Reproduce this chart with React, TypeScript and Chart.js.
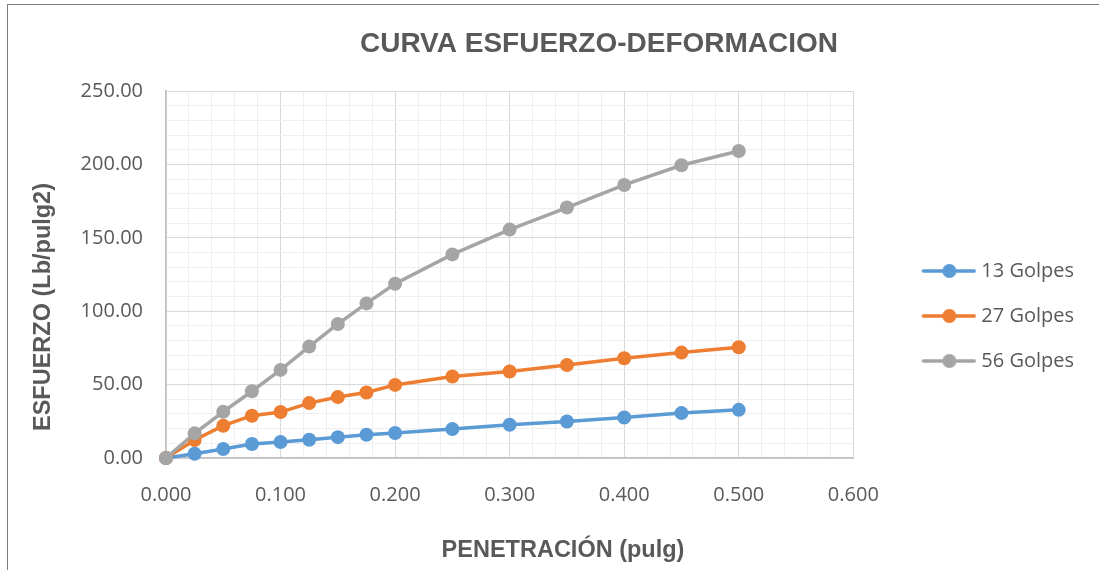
import React, { useEffect, useRef } from "react";
import { Chart, registerables } from "chart.js";

Chart.register(...registerables);

// ---- data ----
const penetracion = [0, 0.025, 0.05, 0.075, 0.1, 0.125, 0.15, 0.175, 0.2, 0.25, 0.3, 0.35, 0.4, 0.45, 0.5];
const golpes13 = [0, 2.9, 6.1, 9.5, 10.9, 12.4, 14.2, 15.8, 17.0, 19.7, 22.6, 24.9, 27.6, 30.6, 32.8];
const golpes27 = [0, 12.3, 22.0, 28.8, 31.3, 37.4, 41.5, 44.6, 49.8, 55.5, 58.9, 63.4, 68.0, 71.8, 75.4];
const golpes56 = [0, 16.8, 31.5, 45.5, 60.0, 75.9, 91.3, 105.3, 118.7, 138.7, 155.6, 170.6, 186.0, 199.4, 209.1];

const seriesLabels = ["13 Golpes", "27 Golpes", "56 Golpes"];
const seriesColors = ["#5B9BD5", "#ED7D31", "#A5A5A5"];

const xTickLabels = ["0.000", "0.100", "0.200", "0.300", "0.400", "0.500", "0.600"];
const yTickLabels = ["0.00", "50.00", "100.00", "150.00", "200.00", "250.00"];

const chartTitle = "CURVA ESFUERZO-DEFORMACION";
const xAxisTitle = "PENETRACIÓN (pulg)";
const yAxisTitle = "ESFUERZO (Lb/pulg2)";

const TEXT = "#595959";
const TICK_FONT = { family: "'Open Sans', sans-serif", size: 20 };
const TITLE_FAMILY = "'Liberation Sans', Arial, sans-serif";

function makeLegendIcon(color: string) {
  const c = document.createElement("canvas");
  c.width = 103;
  c.height = 18;
  const g = c.getContext("2d")!;
  g.strokeStyle = color;
  g.lineWidth = 3.5;
  g.lineCap = "round";
  g.beginPath();
  g.moveTo(50, 9);
  g.lineTo(101, 9);
  g.stroke();
  g.fillStyle = color;
  g.beginPath();
  g.arc(76, 9, 7, 0, Math.PI * 2);
  g.fill();
  return c;
}

const titlesPlugin = {
  id: "excelTitles",
  afterDraw(chart: any) {
    const ctx = chart.ctx as CanvasRenderingContext2D;
    ctx.save();
    ctx.fillStyle = TEXT;
    ctx.textAlign = "center";
    ctx.textBaseline = "alphabetic";
    ctx.font = `bold 28px ${TITLE_FAMILY}`;
    ctx.fillText(chartTitle, 599, 52);
    ctx.font = `bold 23.5px ${TITLE_FAMILY}`;
    ctx.fillText(xAxisTitle, 563, 557);
    ctx.translate(50, 307);
    ctx.rotate(-Math.PI / 2);
    ctx.fillText(yAxisTitle, 0, 0);
    ctx.restore();
  },
};

function isMultiple(v: number, step: number) {
  const r = v / step;
  return Math.abs(r - Math.round(r)) < 1e-6;
}

export default function App() {
  const ref = useRef<HTMLCanvasElement | null>(null);

  useEffect(() => {
    if (!ref.current) return;
    const icons = seriesColors.map(makeLegendIcon);
    const seriesValues = [golpes13, golpes27, golpes56];
    const chart = new Chart(ref.current, {
      type: "line",
      data: {
        datasets: seriesValues.map((vals, i) => ({
          label: seriesLabels[i],
          data: penetracion.map((x, j) => ({ x, y: vals[j] })),
          borderColor: seriesColors[i],
          backgroundColor: seriesColors[i],
          pointBackgroundColor: seriesColors[i],
          pointBorderColor: seriesColors[i],
          borderWidth: 3.5,
          pointRadius: 7,
          pointBorderWidth: 0,
          tension: 0,
          clip: false as any,
          order: 3 - i,
        })),
      },
      options: {
        animation: false,
        responsive: false,
        events: [],
        layout: { padding: { left: 0, top: 91, right: 15, bottom: 29 } },
        scales: {
          x: {
            type: "linear",
            min: 0,
            max: 0.6,
            ticks: {
              stepSize: 0.02,
              autoSkip: false,
              maxRotation: 0,
              minRotation: 0,
              padding: 25,
              color: TEXT,
              font: TICK_FONT,
              callback: (v: any) => (isMultiple(Number(v), 0.1) ? xTickLabels[Math.round(Number(v) / 0.1)] : ""),
            },
            grid: {
              drawTicks: false,
              lineWidth: 1,
              color: (c: any) => (c.tick && isMultiple(c.tick.value, 0.1) ? "#D9D9D9" : "#EFEFEF"),
            },
            border: { color: "#BFBFBF", width: 1.5 },
            afterFit: (s: any) => {
              s.height = 83;
            },
          },
          y: {
            type: "linear",
            min: 0,
            max: 250,
            ticks: {
              stepSize: 10,
              autoSkip: false,
              padding: 23,
              color: TEXT,
              font: TICK_FONT,
              callback: (v: any) => (isMultiple(Number(v), 50) ? yTickLabels[Math.round(Number(v) / 50)] : ""),
            },
            grid: {
              drawTicks: false,
              lineWidth: 1,
              color: (c: any) => (c.tick && isMultiple(c.tick.value, 50) ? "#D9D9D9" : "#EFEFEF"),
            },
            border: { color: "#BFBFBF", width: 1.5 },
            afterFit: (s: any) => {
              s.width = 166;
            },
          },
        },
        plugins: {
          title: { display: false },
          tooltip: { enabled: false },
          legend: {
            display: true,
            position: "right",
            align: "center",
            fullSize: true,
            labels: {
              usePointStyle: true,
              pointStyleWidth: 93,
              padding: 25,
              color: TEXT,
              font: TICK_FONT,
              sort: (a: any, b: any) => a.datasetIndex - b.datasetIndex,
              generateLabels: (ch: any) =>
                (Chart.defaults.plugins.legend.labels.generateLabels as any)(ch).map((l: any) => ({
                  ...l,
                  pointStyle: icons[l.datasetIndex],
                })),
            },
          },
        },
      },
      plugins: [titlesPlugin],
    } as any);
    return () => chart.destroy();
  }, []);

  return (
    <div
      style={{
        position: "fixed",
        left: 0,
        top: 0,
        width: 1099,
        height: 570,
        overflow: "hidden",
        background: "#ffffff",
      }}
    >
      <canvas ref={ref} width={1099} height={570} style={{ position: "absolute", left: 0, top: 0, width: 1099, height: 570 }} />
      <div
        style={{
          position: "absolute",
          left: 7,
          top: 4,
          width: 1300,
          height: 800,
          borderLeft: "1px solid #7F7F7F",
          borderTop: "1px solid #7F7F7F",
          pointerEvents: "none",
        }}
      />
    </div>
  );
}
